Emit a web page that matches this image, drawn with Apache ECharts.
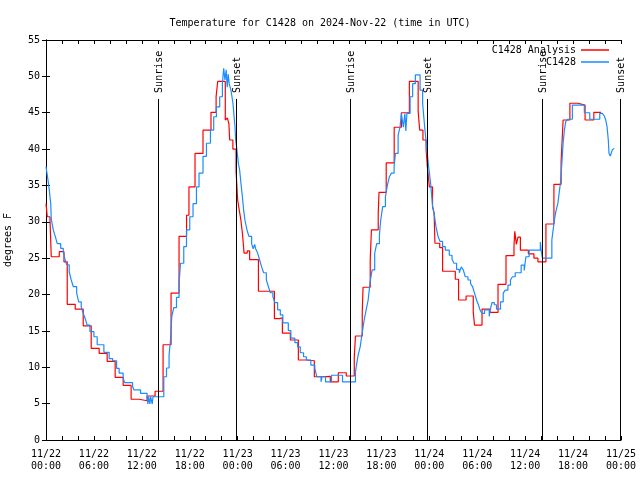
<!DOCTYPE html>
<html>
<head>
<meta charset="utf-8">
<script src="https://cdn.jsdelivr.net/npm/echarts@6/dist/echarts.min.js"></script>
<style>html,body{margin:0;padding:0;background:#fff;}#chart{width:640px;height:480px;}</style>
</head>
<body>
<div id="chart"></div>
<script>
// Hours since 11/22 00:00 UTC
var xTickLabels = ['11/22\n00:00','11/22\n06:00','11/22\n12:00','11/22\n18:00','11/23\n00:00','11/23\n06:00','11/23\n12:00','11/23\n18:00','11/24\n00:00','11/24\n06:00','11/24\n12:00','11/24\n18:00','11/25\n00:00'];

var sunHours = [14.05, 23.83, 38.07, 47.75, 62.15, 71.88];
var sunLabels = ['Sunrise','Sunset','Sunrise','Sunset','Sunrise','Sunset'];

var redHours = [0,0.16,0.5,0.66,1.66,2.25,2.66,3.66,4.66,5.66,6.66,7.66,8.66,9.66,10.66,11.66,12.66,13.66,14.66,15.66,16.66,17.6,17.9,18.66,19.66,20.66,21.3,21.5,22.45,22.7,22.9,23.0,23.4,23.8,24.0,24.2,24.4,24.6,24.8,25.2,25.5,26.6,28.6,29.2,29.6,30.6,31.6,32.6,33.6,34.6,35.6,36.6,37.6,38.6,38.75,39.6,39.7,40.6,40.75,41.6,41.7,42.6,43.6,44.5,45.5,46.6,46.8,47.2,47.6,47.75,48.0,48.4,48.6,48.7,49.3,49.66,51.25,51.66,52.6,53.5,53.66,54.6,55.6,56.6,57.6,58.6,58.7,58.9,59.1,59.4,60.4,61.1,61.6,62.6,63.6,64.5,64.75,65.6,66.6,67.5,68.6,69.5];
var redTemps = [32.5,30.7,30.25,25.2,25.9,24.5,18.65,18.0,15.7,12.6,11.9,10.8,8.6,7.5,5.6,5.4,6.05,6.7,13.1,20.2,28.0,30.9,34.8,39.4,42.6,45.05,47.2,49.3,44.0,44.3,43.5,41.25,40.0,37.0,33.0,31.6,30.25,28.4,25.7,26.0,24.8,20.45,16.7,16.8,14.7,13.75,11.0,10.9,8.7,8.75,8.0,9.25,8.8,11.4,14.3,17.6,21.0,24.8,28.9,31.25,34.05,38.1,43.0,45.0,49.3,45.15,42.6,41.25,39.9,37.6,34.8,32.1,31.2,27.05,26.45,23.2,22.1,19.25,19.8,17.55,15.8,18.0,17.55,21.4,25.35,26.7,28.7,26.9,27.9,26.1,25.6,25.0,24.5,29.7,35.15,38.3,44.0,46.3,46.05,44.0,45.05,45.05];

var blueHours = [0,0.25,0.41,0.59,0.66,0.91,1.16,1.41,1.84,2.16,2.34,2.59,2.91,3.16,3.41,3.84,4.09,4.41,4.66,4.91,5.16,5.5,6.0,6.41,7.25,7.91,8.34,8.84,9.16,9.66,9.84,10.84,11.0,11.84,12.66,12.75,12.84,13.0,13.1,13.3,13.4,14.75,15.09,15.41,15.59,15.75,16.0,16.34,16.66,16.84,17.25,17.59,18.0,18.41,18.84,19.16,19.66,20.09,20.59,21.0,21.34,21.75,22.09,22.25,22.41,22.56,22.69,22.81,22.94,23.16,23.41,23.66,23.75,23.91,24.09,24.25,24.41,24.59,24.75,24.91,25.16,25.41,25.75,25.94,26.13,26.25,26.5,26.75,27.0,27.25,27.59,27.84,28.09,28.41,28.66,29.0,29.34,29.66,30.34,30.66,31.16,31.5,31.84,32.25,32.59,33.16,33.66,33.91,34.44,34.56,35.0,35.75,37.13,38.75,38.91,39.09,39.34,39.59,39.84,40.09,40.34,40.59,40.84,41.16,41.41,41.75,41.91,42.16,42.5,42.75,43.0,43.25,43.59,43.75,44.09,44.34,44.5,44.75,44.94,45.06,45.19,45.59,45.91,46.25,46.84,47.16,47.41,47.66,47.91,48.16,48.41,48.59,48.84,49.09,49.34,49.66,50.0,50.5,50.84,51.09,51.41,51.75,52.0,52.25,52.5,52.84,53.16,53.41,53.66,53.91,54.16,54.34,54.59,54.91,55.5,55.63,55.84,56.13,56.41,56.91,57.25,57.5,57.84,58.16,58.41,58.75,59.5,59.88,60.09,60.5,61.9,62.0,62.16,63.34,63.5,63.66,63.84,64.09,64.25,64.41,64.59,64.75,64.91,65.09,65.34,65.91,67.41,68.09,69.34,69.66,69.91,70.09,70.25,70.41,70.5,70.66,70.91,71.16];
var blueTemps = [37.6,35.75,34.4,32.5,30.4,28.9,28.0,27.0,26.35,25.9,25.0,24.1,23.1,22.0,21.1,20.2,19.0,18.3,17.4,16.7,15.8,14.9,14.2,13.1,12.05,11.2,10.9,9.85,9.2,8.5,7.9,7.4,6.9,6.4,5.95,4.95,5.95,4.95,5.95,4.95,5.95,8.7,9.9,11.7,13.75,17.0,18.2,19.6,21.5,24.3,26.6,28.9,30.7,32.5,34.8,36.7,39.0,40.8,42.6,44.45,45.8,47.2,49.0,51.1,49.5,50.9,48.5,50.3,49.0,48.1,46.3,43.1,41.25,39.9,38.0,37.1,35.3,33.45,31.6,30.25,28.9,28.0,27.0,26.3,26.9,26.3,25.7,24.75,23.8,23.0,22.0,21.1,20.25,19.7,18.9,17.9,17.2,16.1,15.05,14.0,13.4,12.8,12.0,11.45,11.0,10.3,9.85,8.7,8.0,8.7,8.0,8.9,8.0,9.4,10.5,11.7,12.8,14.7,16.5,17.9,19.25,21.8,23.4,25.7,27.0,28.2,30.25,32.1,33.45,35.05,36.2,36.7,37.6,39.4,41.9,43.1,44.9,43.0,44.9,42.5,44.9,47.2,49.0,50.2,48.1,46.3,43.1,40.3,37.6,35.3,32.1,31.2,29.3,28.0,27.3,26.6,26.1,25.4,24.85,24.3,23.45,23.0,23.8,23.4,22.45,22.0,21.5,21.1,20.2,19.25,18.55,17.9,17.4,17.9,17.0,17.9,18.9,18.6,18.0,19.0,20.2,20.6,21.3,22.0,22.45,23.0,24.05,23.3,25.2,26.1,27.2,26.1,25.0,27.5,28.9,30.25,31.4,32.5,33.9,35.3,38.0,40.8,42.6,43.8,44.1,46.05,45.0,44.1,44.9,45.0,44.55,44.0,43.1,41.25,39.4,39.05,39.9,40.1];

function pairs(xs, ys) { return xs.map(function (x, i) { return [x, ys[i]]; }); }

var FONT = 'DejaVu Sans Mono';
var SUN_TOP = 46.9;

var chart = echarts.init(document.getElementById('chart'), null, {renderer: 'canvas'});
var axisCommon = {
  type: 'value', min: 0, max: 72, interval: 2,
  axisLine: {show: true, onZero: false, lineStyle: {color: '#000', width: 1}},
  axisTick: {show: true, inside: true, length: 4, lineStyle: {color: '#000'}},
  splitLine: {show: false}
};
chart.setOption({
  animation: false,
  backgroundColor: '#fff',
  title: {
    text: 'Temperature for C1428 on 2024-Nov-22 (time in UTC)',
    left: 'center', top: 13,
    textStyle: {fontFamily: FONT, fontSize: 10, fontWeight: 'normal', color: '#000'}
  },
  legend: [
    {data: ['C1428 Analysis'], orient: 'vertical', align: 'right', right: 31, top: 45, padding: 0,
     icon: 'rect', itemWidth: 28, itemHeight: 1.5,
     textStyle: {fontFamily: FONT, fontSize: 10, color: '#000'}},
    {data: ['C1428'], orient: 'vertical', align: 'right', right: 31, top: 57, padding: 0,
     icon: 'rect', itemWidth: 28, itemHeight: 1.5,
     textStyle: {fontFamily: FONT, fontSize: 10, color: '#000'}}
  ],
  grid: {left: 46, right: 19, top: 40, bottom: 40, containLabel: false, outerBoundsMode: 'none'},
  xAxis: [
    Object.assign({}, axisCommon, {
      position: 'bottom',
      axisLabel: {
        show: true, margin: 8, fontFamily: FONT, fontSize: 10, color: '#000', lineHeight: 12,
        hideOverlap: false,
        formatter: function (v) { return (v % 6 === 0) ? xTickLabels[v / 6] : ''; }
      }
    }),
    Object.assign({}, axisCommon, {position: 'top', axisLabel: {show: false}})
  ],
  yAxis: [
    {type: 'value', min: 0, max: 55, interval: 5, position: 'left',
     name: 'degrees F', nameLocation: 'middle', nameGap: 33, nameRotate: 90,
     nameTextStyle: {fontFamily: FONT, fontSize: 10, color: '#000'},
     axisLine: {show: true, lineStyle: {color: '#000'}},
     axisTick: {show: true, inside: true, length: 4, lineStyle: {color: '#000'}},
     axisLabel: {margin: 6, fontFamily: FONT, fontSize: 10, color: '#000'},
     splitLine: {show: false}},
    {type: 'value', min: 0, max: 55, interval: 5, position: 'right',
     axisLine: {show: true, lineStyle: {color: '#000'}},
     axisTick: {show: true, inside: true, length: 4, lineStyle: {color: '#000'}},
     axisLabel: {show: false}, splitLine: {show: false}}
  ],
  series: [
    {name: 'C1428 Analysis', type: 'line', step: 'end', showSymbol: false, symbol: 'none',
     data: pairs(redHours, redTemps), color: '#ff0000',
     lineStyle: {color: '#ff0000', width: 1.2}, z: 2},
    {name: 'C1428', type: 'line', step: 'end', showSymbol: false, symbol: 'none',
     data: pairs(blueHours, blueTemps), color: '#1a8cff',
     lineStyle: {color: '#1a8cff', width: 1.2}, z: 3},
    {name: 'sun', type: 'custom', clip: false, z: 4,
     data: sunHours.map(function (h) { return [h, 0]; }),
     encode: {x: 0, y: 1},
     renderItem: function (params, api) {
       var h = api.value(0);
       var top = api.coord([h, SUN_TOP]);
       var bot = api.coord([h, 0]);
       return {type: 'group', children: [
         {type: 'line', shape: {x1: Math.round(top[0]) + 0.5, y1: top[1], x2: Math.round(bot[0]) + 0.5, y2: bot[1]},
          style: {stroke: '#000', lineWidth: 1}},
         {type: 'text', x: Math.round(top[0]) + 1, y: top[1] - 6, rotation: Math.PI / 2,
          style: {text: sunLabels[params.dataIndex], fill: '#000', font: '10px "' + FONT + '"',
                  align: 'left', verticalAlign: 'middle'}}
       ]};
     }}
  ]
});
</script>
</body>
</html>
